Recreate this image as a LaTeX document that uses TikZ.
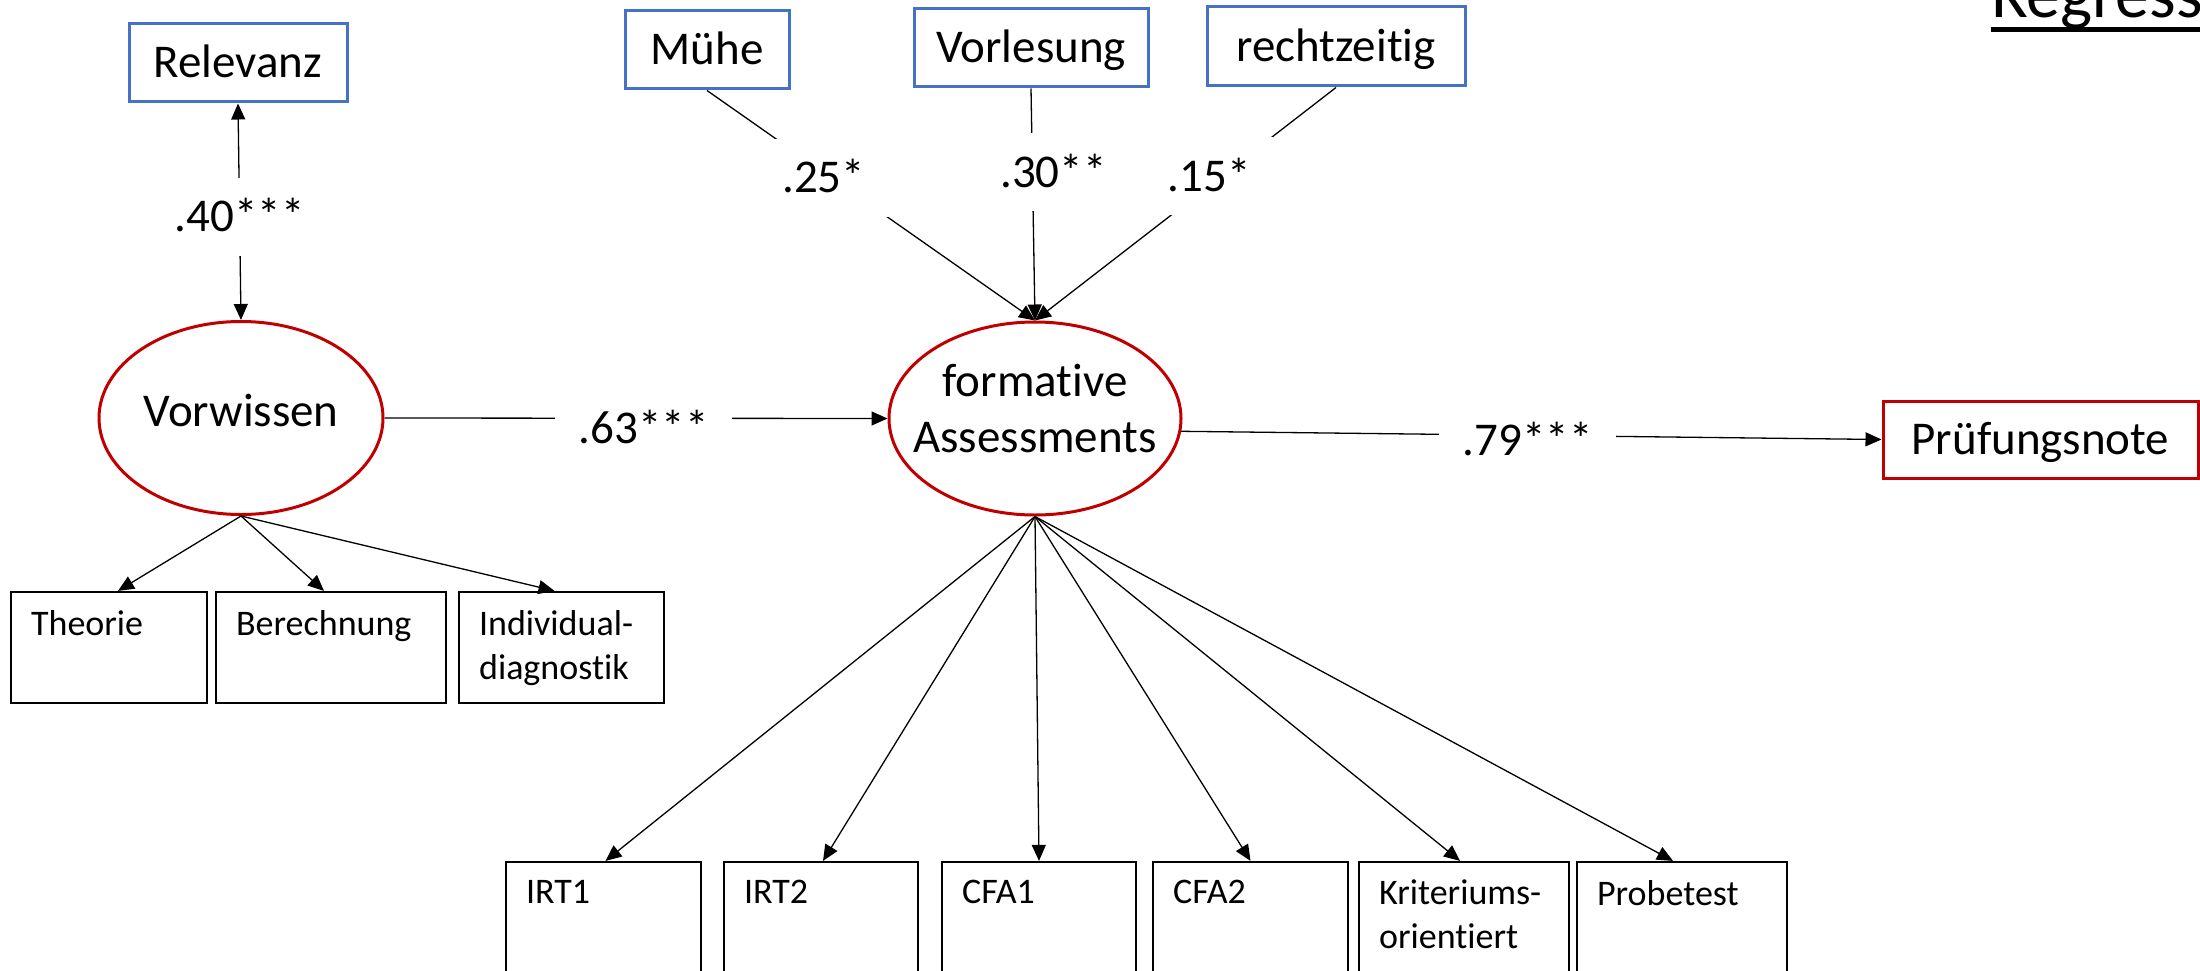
\documentclass[tikz,border=0pt]{standalone}
\usepackage{fontspec}
\setmainfont{Carlito}[Ligatures={NoCommon}]
\usetikzlibrary{shapes.geometric,arrows.meta}
\definecolor{obsblue}{HTML}{4472C4}
\definecolor{latred}{HTML}{C00000}
\newcommand{\bigfnt}{\fontsize{47}{56}\selectfont}
\newcommand{\smallfnt}{\fontsize{36}{44}\selectfont}
\newcommand{\titlefnt}{\fontsize{68}{80}\selectfont}
\begin{document}
\begin{tikzpicture}[x=1pt,y=-1pt,
  conn/.style={line width=1.3pt, draw=black},
  arr/.style={-{Triangle[length=16pt,width=14pt]}},
  dblarr/.style={{Triangle[length=16pt,width=14pt]}-{Triangle[length=16pt,width=14pt]}},
  obsbox/.style={rectangle, draw=obsblue, line width=3pt, inner sep=0pt, font=\bigfnt, text height=30pt, text depth=0pt},
  outbox/.style={rectangle, draw=latred, line width=3pt, inner sep=0pt, font=\bigfnt, text height=30pt, text depth=0pt},
  latent/.style={ellipse, draw=latred, line width=3pt, inner sep=0pt},
  lattext/.style={font=\bigfnt, align=center, inner sep=0pt},
  indbox/.style={rectangle, draw=black, line width=2.2pt, inner sep=0pt},
  indtext/.style={font=\smallfnt, align=left, inner sep=0pt, anchor=north west, xshift=21pt, yshift=-19pt},
  coef/.style={fill=white, font=\bigfnt, inner sep=24pt, text height=30pt, text depth=0pt}
]
\useasboundingbox (0,0) rectangle (2200,971);

% title (cut off at top and right)
\node[font=\titlefnt, anchor=base west, inner sep=0pt] (title) at (1991,18) {Regression};
\draw[line width=5pt] ([yshift=-12pt]title.base west) -- ([yshift=-12pt]title.base east);

% observed predictors
\node[obsbox, minimum width=218pt, minimum height=78pt] (rel) at (238,63) {Relevanz};
\node[obsbox, minimum width=164pt, minimum height=78pt] (muhe) at (707,50) {Mühe};
\node[obsbox, minimum width=234pt, minimum height=78pt] (vorl) at (1031,48) {Vorlesung};
\node[obsbox, minimum width=258pt, minimum height=79pt] (recht) at (1336,46.5) {rechtzeitig};

% latent variables
\node[latent, minimum width=284pt, minimum height=193pt,
      label={[lattext, yshift=7pt]center:Vorwissen}] (vor) at (241,418) {};
\node[latent, minimum width=292pt, minimum height=193pt,
      label={[lattext, yshift=10pt]center:formative\\Assessments}] (form) at (1035,418.5) {};

% outcome
\node[outbox, minimum width=315pt, minimum height=77pt] (pruef) at (2040.5,439.5) {Prüfungsnote};

% indicators of Vorwissen
\node[indbox, minimum width=196pt, minimum height=111pt, label={[indtext]north west:Theorie}] (theo) at (109,647.5) {};
\node[indbox, minimum width=230pt, minimum height=111pt, label={[indtext]north west:Berechnung}] (bere) at (331,647.5) {};
\node[indbox, minimum width=205pt, minimum height=111pt, label={[indtext]north west:Individual-\\diagnostik}] (indi) at (561.5,647.5) {};

% indicators of formative Assessments
\node[indbox, minimum width=195pt, minimum height=111pt, label={[indtext]north west:IRT1}] (irt1) at (603.5,917.5) {};
\node[indbox, minimum width=194pt, minimum height=111pt, label={[indtext]north west:IRT2}] (irt2) at (821,917.5) {};
\node[indbox, minimum width=194pt, minimum height=111pt, label={[indtext]north west:CFA1}] (cfa1) at (1039,917.5) {};
\node[indbox, minimum width=195pt, minimum height=111pt, label={[indtext]north west:CFA2}] (cfa2) at (1250.5,917.5) {};
\node[indbox, minimum width=210pt, minimum height=111pt, label={[indtext]north west:Kriteriums-\\orientiert}] (krit) at (1464,917.5) {};
\node[indbox, minimum width=210pt, minimum height=111pt, label={[indtext]north west:Probetest}] (prob) at (1682,917.5) {};

% structural paths
\draw[conn, dblarr] (rel.south) -- node[coef, pos=0.523] (l40) {.40***} (vor.north);
\draw[conn, arr] (muhe.south) -- node[coef, pos=0.38, xshift=-8pt] (l25) {.25*} (form.north);
\draw[conn, arr] (vorl.south) -- node[coef, pos=0.362, xshift=21pt] (l30) {.30**} (form.north);
\draw[conn, arr] (recht.south) -- node[coef, pos=0.381, xshift=-12pt] (l15) {.15*} (form.north);
\draw[conn, arr] (vor.east) -- node[coef, pos=0.523, xshift=-4pt, yshift=-10pt] (l63) {.63***} (form.west);
\draw[conn, arr] (form.-5) -- node[coef, pos=0.506, xshift=-8pt, yshift=-5pt] (l79) {.79***} (pruef.west);

% measurement paths
\draw[conn, arr] (vor.south) -- ([xshift=9pt]theo.north);
\draw[conn, arr] (vor.south) -- ([xshift=-7pt]bere.north);
\draw[conn, arr] (vor.south) -- ([xshift=-7pt]indi.north);

\draw[conn, arr] (form.south) -- ([xshift=2pt]irt1.north);
\draw[conn, arr] (form.south) -- ([xshift=2pt]irt2.north);
\draw[conn, arr] (form.south) -- (cfa1.north);
\draw[conn, arr] (form.south) -- (cfa2.north);
\draw[conn, arr] (form.south) -- ([xshift=-4pt]krit.north);
\draw[conn, arr] (form.south) -- ([xshift=-9pt]prob.north);
\end{tikzpicture}
\end{document}
